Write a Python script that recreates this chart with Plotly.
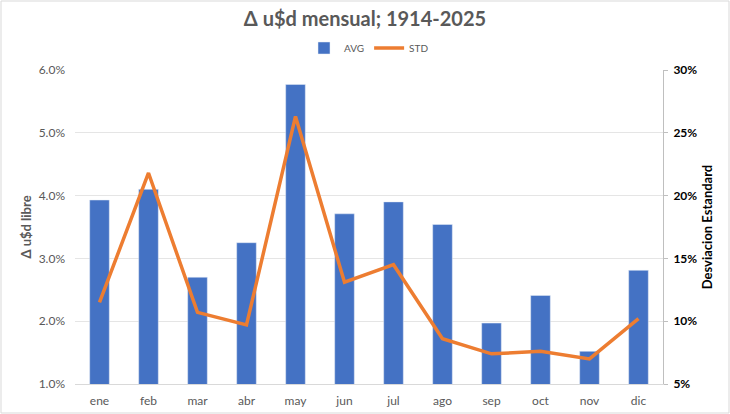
import plotly.graph_objects as go

months = ["ene", "feb", "mar", "abr", "may", "jun", "jul", "ago", "sep", "oct", "nov", "dic"]
avg = [0.0393, 0.0410, 0.0270, 0.0325, 0.0577, 0.0371, 0.0390, 0.0354, 0.0197, 0.0241, 0.0152, 0.0281]
std = [0.115, 0.218, 0.107, 0.097, 0.263, 0.131, 0.145, 0.086, 0.074, 0.076, 0.070, 0.102]

FONT = "Lato"
GRAY = "#595959"
# plot area in pixels: x 75..663, y 70..384
L, R, T, B = 75, 67, 70, 30
PW, PH = 730 - L - R, 414 - T - B

fig = go.Figure()
fig.add_trace(go.Bar(x=months, y=avg, name="AVG", marker_color="#4472C4", width=0.4))
fig.add_trace(go.Scatter(x=months, y=std, name="STD", yaxis="y2", mode="lines",
                         line=dict(color="#ED7D31", width=3.5)))

fig.update_layout(
    width=730, height=414,
    paper_bgcolor="white", plot_bgcolor="white",
    margin=dict(l=L, r=R, t=T, b=B, autoexpand=False),
    font=dict(family=FONT, color=GRAY, size=12),
    title=dict(text="<b>Δ u$d mensual; 1914-2025</b>", x=0.5, xanchor="center",
               y=1 - 19 / 414, yanchor="middle", font=dict(size=20, color=GRAY)),
    legend=dict(orientation="h", x=0.5, xanchor="center", y=1 + 22 / PH, yanchor="middle",
                font=dict(size=10, color=GRAY), itemwidth=30),
    showlegend=True,
    xaxis=dict(showgrid=False, showline=True, linecolor="#D9D9D9", ticks="",
               ticklabelstandoff=6, tickfont=dict(size=12, color=GRAY), automargin=False),
    yaxis=dict(range=[0.01, 0.06], dtick=0.01, tickformat=".1%", showgrid=True,
               gridcolor="#E5E5E5", zeroline=False, tickfont=dict(size=12, color=GRAY),
               ticklabelstandoff=9, automargin=False,
               title=dict(text="<b>Δ u$d libre</b>", font=dict(size=13, color=GRAY), standoff=4)),
    yaxis2=dict(range=[0.05, 0.30], dtick=0.05, tickformat=".0%", overlaying="y", side="right",
                showgrid=False, zeroline=False, showline=True, linecolor="#BFBFBF",
                ticks="outside", ticklen=4, tickcolor="#BFBFBF", automargin=False,
                ticklabelstandoff=3,
                tickfont=dict(size=12, color="black", weight="bold"),
                title=dict(text="<b>Desviacion Estandard</b>", font=dict(size=13, color="black"), standoff=6)),
)
fig.add_shape(type="rect", xref="paper", yref="paper",
              x0=-(L - 1) / PW, x1=1 + (R - 1) / PW, y0=-(B - 1) / PH, y1=1 + (T - 1) / PH,
              line=dict(color="#D9D9D9", width=1), layer="below")

# the page's default body margin would shift the chart by 8px
fig.write_html("out.html", config={"displayModeBar": False},
               post_script="document.body.style.margin='0';")
